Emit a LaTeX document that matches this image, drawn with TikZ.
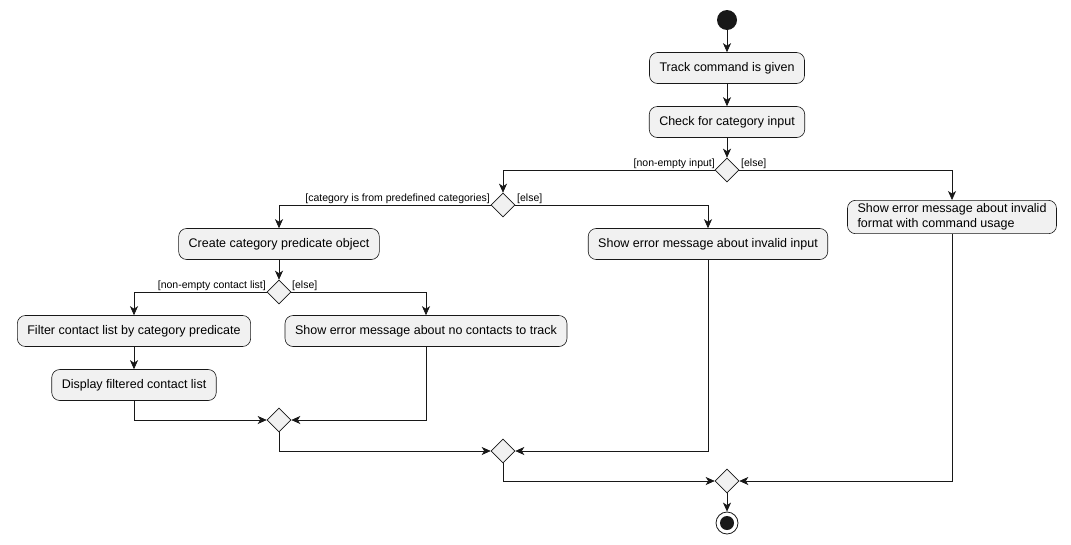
\documentclass[tikz,border=0pt]{standalone}
\usepackage{fontspec}
\setmainfont{Liberation Sans}
\usetikzlibrary{arrows.meta,shapes.geometric}
\definecolor{boxfill}{HTML}{F1F1F1}
\definecolor{ink}{HTML}{181818}
\tikzset{
  act/.style={rounded corners=8pt,draw=ink,fill=boxfill,line width=.6pt,
    minimum height=31pt,inner xsep=10pt,align=left,font=\fontsize{12.5}{15}\selectfont},
  dec/.style={diamond,draw=ink,fill=boxfill,line width=.6pt,minimum width=24pt,minimum height=24pt,inner sep=0pt},
  guard/.style={font=\fontsize{10.5}{12}\selectfont,inner sep=1pt},
  arr/.style={draw=ink,line width=.7pt,-{Stealth[length=9pt,width=8pt,inset=2.5pt]}}
}
\begin{document}
\begin{tikzpicture}[x=1pt,y=-1pt]
  \useasboundingbox (0,0) rectangle (1071,544);

  \node[circle,fill=ink,minimum size=20pt,inner sep=0pt] (start) at (727,20) {};
  \node[act] (track) at (727,68) {Track command is given};
  \node[act] (check) at (727,122) {Check for category input};
  \node[dec] (d1) at (727,170) {};
  \node[act] (fmt) at (952,217) {Show error message about invalid\\format with command usage};
  \node[dec] (d2) at (503,205) {};
  \node[act] (pred) at (279,244) {Create category predicate object};
  \node[act] (inv) at (708,244) {Show error message about invalid input};
  \node[dec] (d3) at (279,292) {};
  \node[act] (filt) at (134,331) {Filter contact list by category predicate};
  \node[act] (none) at (426,331) {Show error message about no contacts to track};
  \node[act] (disp) at (134,385) {Display filtered contact list};
  \node[dec] (m1) at (279,420) {};
  \node[dec] (m2) at (503,451) {};
  \node[dec] (m3) at (727,481) {};
  \node[circle,draw=ink,line width=.8pt,minimum size=22pt,inner sep=0pt] (stop) at (727,523) {};
  \fill[ink] (stop) circle (7pt);

  % guards
  \node[guard,anchor=south east] at (716,170) {[non-empty input]};
  \node[guard,anchor=south west] at (740,170) {[else]};
  \node[guard,anchor=south east] at (491,205) {[category is from predefined categories]};
  \node[guard,anchor=south west] at (516,205) {[else]};
  \node[guard,anchor=south east] at (267,292) {[non-empty contact list]};
  \node[guard,anchor=south west] at (291,292) {[else]};

  \draw[arr] (start) -- (track);
  \draw[arr] (track) -- (check);
  \draw[arr] (check) -- (d1);
  \draw[arr] (d1.west) -| (d2.north);
  \draw[arr] (d1.east) -| (fmt.north);
  \draw[arr] (d2.west) -| (pred.north);
  \draw[arr] (d2.east) -| (inv.north);
  \draw[arr] (pred) -- (d3);
  \draw[arr] (d3.west) -| (filt.north);
  \draw[arr] (d3.east) -| (none.north);
  \draw[arr] (filt) -- (disp);
  \draw[arr] (disp.south) |- (m1.west);
  \draw[arr] (none.south) |- (m1.east);
  \draw[arr] (m1.south) |- (m2.west);
  \draw[arr] (inv.south) |- (m2.east);
  \draw[arr] (m2.south) |- (m3.west);
  \draw[arr] (fmt.south) |- (m3.east);
  \draw[arr] (m3) -- (stop);
\end{tikzpicture}
\end{document}
